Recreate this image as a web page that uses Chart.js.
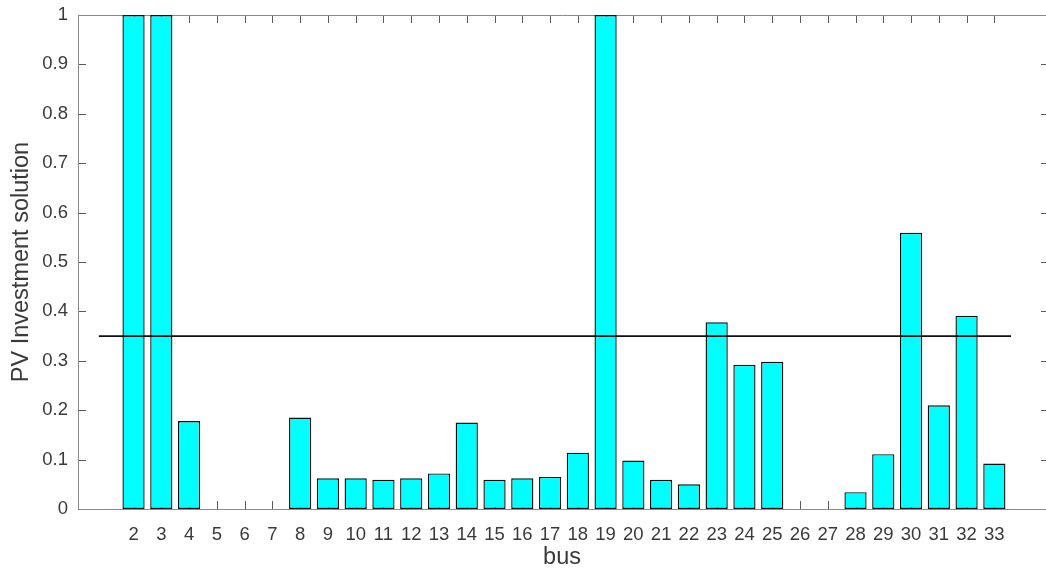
<!DOCTYPE html>
<html>
<head>
<meta charset="utf-8">
<script src="https://cdn.jsdelivr.net/npm/chart.js@4/dist/chart.umd.min.js"></script>
<style>
  html, body { margin: 0; padding: 0; background: #fff; overflow: hidden; }
  #wrap { position: absolute; left: 0; top: 0; width: 1046px; height: 581px; }
</style>
</head>
<body>
<div id="wrap"><canvas id="pvChart" width="1046" height="581"></canvas></div>
<script>
// bus numbers (x) and PV investment per bus (y)
const busIds = [2, 3, 4, 5, 6, 7, 8, 9, 10, 11, 12, 13, 14, 15, 16, 17,
                18, 19, 20, 21, 22, 23, 24, 25, 26, 27, 28, 29, 30, 31, 32, 33];
const pvValues = [1, 1, 0.178, 0, 0, 0, 0.185, 0.062, 0.062, 0.059, 0.062, 0.072, 0.175, 0.059, 0.062, 0.065,
                  0.114, 1, 0.098, 0.059, 0.050, 0.378, 0.292, 0.298, 0, 0, 0.034, 0.111, 0.559, 0.210, 0.391, 0.092];
// horizontal reference line
const limitX = [0.75, 33.6];
const limitY = [0.35, 0.35];
// the figure is cropped on the right, so the visible x range stops short of 35
const xRange = [0, 34.86];
const yRange = [0, 1];

const textColor = '#3a3a3a';
const fontFamily = "'Liberation Sans', Arial, Helvetica, sans-serif";

// MATLAB style box with inward ticks, drawn under the bars
// (right edge of the box is cut off in the original, only tick stubs show)
const boxTicks = {
    id: 'boxTicks',
    beforeDatasetsDraw(chart) {
        const {ctx, chartArea: a, width} = chart;
        const xs = chart.scales.x, ys = chart.scales.y;
        const tl = 8;
        ctx.save();
        ctx.strokeStyle = '#5a5a5a';
        ctx.lineWidth = 1;
        ctx.beginPath();
        xs.ticks.forEach(t => {
            const px = Math.round(xs.getPixelForValue(t.value)) + 0.5;
            ctx.moveTo(px, a.bottom); ctx.lineTo(px, a.bottom - tl);
            ctx.moveTo(px, a.top); ctx.lineTo(px, a.top + tl);
        });
        ys.ticks.forEach(t => {
            const py = Math.round(ys.getPixelForValue(t.value)) + 0.5;
            ctx.moveTo(a.left, py); ctx.lineTo(a.left + tl, py);
            ctx.moveTo(width, py); ctx.lineTo(width - 5, py);
        });
        ctx.stroke();
        ctx.strokeStyle = '#8a8a8a';
        const l = Math.round(a.left) + 0.5, t = Math.round(a.top) + 0.5, b = Math.round(a.bottom) + 0.5;
        ctx.beginPath();
        ctx.moveTo(width, t); ctx.lineTo(l, t); ctx.lineTo(l, b); ctx.lineTo(width, b);
        ctx.stroke();
        ctx.restore();
    }
};

const ctx = document.getElementById('pvChart').getContext('2d');
new Chart(ctx, {
    type: 'bar',
    data: {
        datasets: [
            {
                type: 'line',
                data: limitX.map((x, i) => ({x: x, y: limitY[i]})),
                borderColor: '#111',
                borderWidth: 1.6,
                pointRadius: 0,
                fill: false,
                order: 0
            },
            {
                type: 'bar',
                data: busIds.map((b, i) => ({x: b, y: pvValues[i]})),
                backgroundColor: '#00ffff',
                borderColor: '#111',
                borderWidth: 1.4,
                borderSkipped: false,
                barPercentage: 0.8,
                categoryPercentage: 1.0,
                order: 1
            }
        ]
    },
    options: {
        responsive: false,
        animation: false,
        layout: { padding: { left: 0, top: 15, right: 0, bottom: 0 } },
        plugins: {
            legend: { display: false },
            tooltip: { enabled: false }
        },
        scales: {
            x: {
                type: 'linear',
                min: xRange[0],
                max: xRange[1],
                offset: false,
                grid: { display: false, drawTicks: false },
                border: { display: false },
                afterBuildTicks: (scale) => {
                    scale.ticks = busIds.map(v => ({value: v}));
                },
                afterFit: (scale) => {
                    scale.height = 72;
                    scale.paddingLeft = 0;
                    scale.paddingRight = 0;
                },
                ticks: {
                    color: textColor,
                    font: { family: fontFamily, size: 18.5 },
                    padding: 15,
                    maxRotation: 0,
                    autoSkip: false,
                    callback: (v) => String(v)
                },
                title: {
                    display: true,
                    text: 'bus',
                    color: textColor,
                    font: { family: fontFamily, size: 23.5 },
                    padding: { top: 0, bottom: 9 }
                }
            },
            y: {
                min: yRange[0],
                max: yRange[1],
                grid: { display: false, drawTicks: false },
                border: { display: false },
                afterFit: (scale) => {
                    scale.width = 78;
                    scale.paddingTop = 0;
                    scale.paddingBottom = 0;
                },
                ticks: {
                    stepSize: 0.1,
                    color: textColor,
                    font: { family: fontFamily, size: 18.5 },
                    padding: 10,
                    callback: (v) => String(Math.round(v * 10) / 10)
                },
                title: {
                    display: true,
                    text: 'PV Investment solution',
                    color: textColor,
                    font: { family: fontFamily, size: 23.5 },
                    padding: { top: 7, bottom: 0 }
                }
            }
        }
    },
    plugins: [boxTicks]
});
</script>
</body>
</html>
